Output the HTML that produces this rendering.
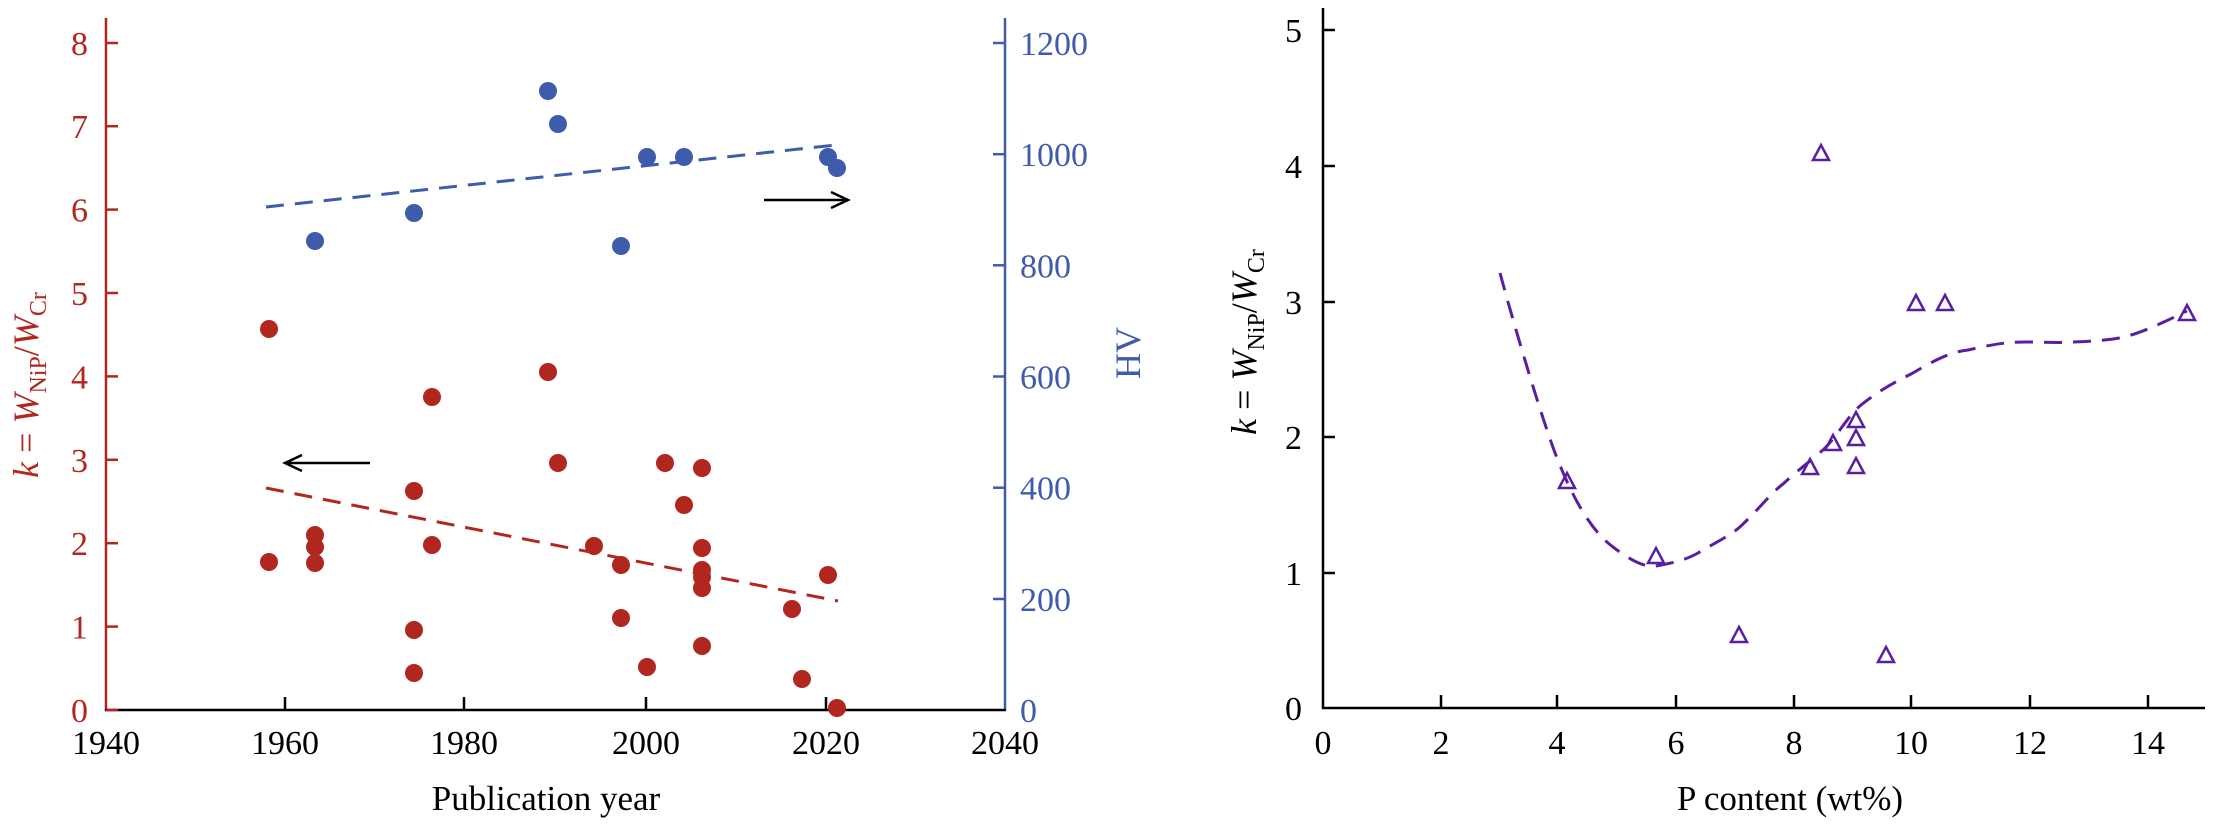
<!DOCTYPE html>
<html><head><meta charset="utf-8"><style>
html,body{margin:0;padding:0;background:#fff}
svg{display:block}
text{font-family:"Liberation Serif",serif}
</style></head><body>
<svg width="2213" height="824" viewBox="0 0 2213 824" xmlns="http://www.w3.org/2000/svg">
<!-- LEFT CHART -->
<g stroke-width="2.5" fill="none">
<line x1="106" y1="18" x2="106" y2="711" stroke="#b22620"/>
<line x1="1005" y1="18" x2="1005" y2="711" stroke="#3f5bab"/>
<line x1="105" y1="710" x2="1006" y2="710" stroke="#000"/>
</g>
<g stroke="#b22620" stroke-width="2.5">
<line x1="106" y1="710" x2="118" y2="710"/><line x1="106" y1="626.6" x2="118" y2="626.6"/>
<line x1="106" y1="543.2" x2="118" y2="543.2"/><line x1="106" y1="459.8" x2="118" y2="459.8"/>
<line x1="106" y1="376.4" x2="118" y2="376.4"/><line x1="106" y1="293" x2="118" y2="293"/>
<line x1="106" y1="209.6" x2="118" y2="209.6"/><line x1="106" y1="126.2" x2="118" y2="126.2"/>
<line x1="106" y1="43" x2="118" y2="43"/>
</g>
<g fill="#b22620" font-size="34" text-anchor="end">
<text x="88" y="722">0</text><text x="88" y="638.6">1</text><text x="88" y="555.2">2</text>
<text x="88" y="471.8">3</text><text x="88" y="388.4">4</text><text x="88" y="305">5</text>
<text x="88" y="221.6">6</text><text x="88" y="138.2">7</text><text x="88" y="55">8</text>
</g>
<g stroke="#3f5bab" stroke-width="2.5">
<line x1="993" y1="599" x2="1005" y2="599"/><line x1="993" y1="487.7" x2="1005" y2="487.7"/>
<line x1="993" y1="376.5" x2="1005" y2="376.5"/><line x1="993" y1="265.3" x2="1005" y2="265.3"/>
<line x1="993" y1="154.2" x2="1005" y2="154.2"/><line x1="993" y1="43" x2="1005" y2="43"/>
</g>
<g fill="#3f5bab" font-size="34" text-anchor="start">
<text x="1020" y="722">0</text><text x="1020" y="611">200</text><text x="1020" y="499.7">400</text>
<text x="1020" y="388.5">600</text><text x="1020" y="277.3">800</text><text x="1020" y="166.2">1000</text>
<text x="1020" y="55">1200</text>
</g>
<g stroke="#000" stroke-width="2.5">
<line x1="285" y1="710" x2="285" y2="697"/><line x1="464" y1="710" x2="464" y2="697"/>
<line x1="646" y1="710" x2="646" y2="697"/><line x1="826" y1="710" x2="826" y2="697"/>
</g>
<g fill="#000" font-size="34" text-anchor="middle">
<text x="106" y="754">1940</text><text x="285" y="754">1960</text><text x="464" y="754">1980</text>
<text x="646" y="754">2000</text><text x="826" y="754">2020</text><text x="1005" y="754">2040</text>
<text x="546" y="810" font-size="35">Publication year</text>
</g>
<text transform="translate(38,385) rotate(-90)" text-anchor="middle" font-size="36" fill="#b22620"><tspan font-style="italic">k</tspan> = <tspan font-style="italic">W</tspan><tspan font-size="24" dy="8">NiP</tspan><tspan dy="-8">/</tspan><tspan font-style="italic">W</tspan><tspan font-size="24" dy="8">Cr</tspan></text>
<text transform="translate(1140,353) rotate(-90)" text-anchor="middle" font-size="36" fill="#3f5bab">HV</text>
<!-- trend lines -->
<line x1="266" y1="207" x2="836" y2="145" stroke="#3f5bab" stroke-width="3" stroke-dasharray="18,11"/>
<line x1="266" y1="488" x2="838" y2="601" stroke="#b22620" stroke-width="3" stroke-dasharray="18,11"/>
<!-- arrows -->
<g stroke="#000" stroke-width="2.5" fill="none">
<line x1="370" y1="463" x2="287" y2="463"/><path d="M302,455 L285,463 L302,471"/>
<line x1="764" y1="200" x2="846" y2="200"/><path d="M831,192 L848,200 L831,208"/>
</g>
<g fill="#3f5bab">
<circle cx="548" cy="91" r="9"/><circle cx="558" cy="124" r="9"/><circle cx="647" cy="157" r="9"/>
<circle cx="684" cy="157" r="9"/><circle cx="828" cy="157" r="9"/><circle cx="837" cy="168" r="9"/>
<circle cx="315" cy="241" r="9"/><circle cx="414" cy="213" r="9"/><circle cx="621" cy="246" r="9"/>
</g>
<g fill="#b22620">
<circle cx="269" cy="329" r="9"/><circle cx="269" cy="562" r="9"/><circle cx="315" cy="535" r="9"/>
<circle cx="315" cy="547" r="9"/><circle cx="315" cy="563" r="9"/><circle cx="414" cy="491" r="9"/>
<circle cx="414" cy="630" r="9"/><circle cx="414" cy="673" r="9"/><circle cx="432" cy="397" r="9"/>
<circle cx="432" cy="545" r="9"/><circle cx="548" cy="372" r="9"/><circle cx="558" cy="463" r="9"/>
<circle cx="594" cy="546" r="9"/><circle cx="621" cy="565" r="9"/><circle cx="621" cy="618" r="9"/>
<circle cx="647" cy="667" r="9"/><circle cx="665" cy="463" r="9"/><circle cx="684" cy="505" r="9"/>
<circle cx="702" cy="468" r="9"/><circle cx="702" cy="548" r="9"/><circle cx="702" cy="570" r="9"/>
<circle cx="702" cy="577" r="9"/><circle cx="702" cy="588" r="9"/><circle cx="702" cy="646" r="9"/>
<circle cx="792" cy="609" r="9"/><circle cx="802" cy="679" r="9"/><circle cx="828" cy="575" r="9"/>
<circle cx="837" cy="708" r="9"/>
</g>

<!-- RIGHT CHART -->
<g stroke="#000" stroke-width="2.5" fill="none">
<line x1="1323" y1="8" x2="1323" y2="709"/>
<line x1="1322" y1="708" x2="2205" y2="708"/>
</g>
<g stroke="#000" stroke-width="2.5">
<line x1="1323" y1="573" x2="1335" y2="573"/><line x1="1323" y1="437" x2="1335" y2="437"/>
<line x1="1323" y1="302" x2="1335" y2="302"/><line x1="1323" y1="166" x2="1335" y2="166"/>
<line x1="1323" y1="30" x2="1335" y2="30"/>
<line x1="1441" y1="708" x2="1441" y2="695"/><line x1="1557" y1="708" x2="1557" y2="695"/>
<line x1="1676" y1="708" x2="1676" y2="695"/><line x1="1794" y1="708" x2="1794" y2="695"/>
<line x1="1911" y1="708" x2="1911" y2="695"/><line x1="2030" y1="708" x2="2030" y2="695"/>
<line x1="2148" y1="708" x2="2148" y2="695"/>
</g>
<g fill="#000" font-size="34" text-anchor="end">
<text x="1302" y="720">0</text><text x="1302" y="585">1</text><text x="1302" y="449">2</text>
<text x="1302" y="314">3</text><text x="1302" y="178">4</text><text x="1302" y="42">5</text>
</g>
<g fill="#000" font-size="34" text-anchor="middle">
<text x="1323" y="754">0</text><text x="1441" y="754">2</text><text x="1557" y="754">4</text>
<text x="1676" y="754">6</text><text x="1794" y="754">8</text><text x="1911" y="754">10</text>
<text x="2030" y="754">12</text><text x="2148" y="754">14</text>
<text x="1790" y="810" font-size="35">P content (wt%)</text>
</g>
<text transform="translate(1256,342) rotate(-90)" text-anchor="middle" font-size="36" fill="#000"><tspan font-style="italic">k</tspan> = <tspan font-style="italic">W</tspan><tspan font-size="24" dy="8">NiP</tspan><tspan dy="-8">/</tspan><tspan font-style="italic">W</tspan><tspan font-size="24" dy="8">Cr</tspan></text>
<path d="M1500,273 C1512,318 1542,420 1557,458 C1572,496 1590,530 1613,547 C1630,560 1645,568 1656,566 C1672,563 1686,560 1698,553 C1716,542 1730,536 1741,526 C1760,508 1770,494 1783,484 C1800,468 1815,458 1826,447 C1840,432 1848,416 1861,405 C1880,390 1895,382 1911,374 C1935,360 1950,352 1968,350 C1990,345 2005,342 2024,342 C2045,342 2060,343 2074,342 C2095,341 2110,340 2124,337 C2140,333 2155,326 2166,321 C2175,317 2182,313 2187,311" fill="none" stroke="#5a1fa0" stroke-width="3" stroke-dasharray="18,11"/>
<g fill="none" stroke="#5a1fa0" stroke-width="2.5">
<path d="M1567,473 l8,15 h-16 z"/><path d="M1656,548 l8,15 h-16 z"/><path d="M1739,627 l8,15 h-16 z"/>
<path d="M1810,459 l8,15 h-16 z"/><path d="M1821,145 l8,15 h-16 z"/><path d="M1833,435 l8,15 h-16 z"/>
<path d="M1856,412 l8,15 h-16 z"/><path d="M1856,430 l8,15 h-16 z"/><path d="M1856,458 l8,15 h-16 z"/>
<path d="M1886,647 l8,15 h-16 z"/><path d="M1916,295 l8,15 h-16 z"/><path d="M1945,295 l8,15 h-16 z"/>
<path d="M2187,305 l8,15 h-16 z"/>
</g>
</svg>
</body></html>
